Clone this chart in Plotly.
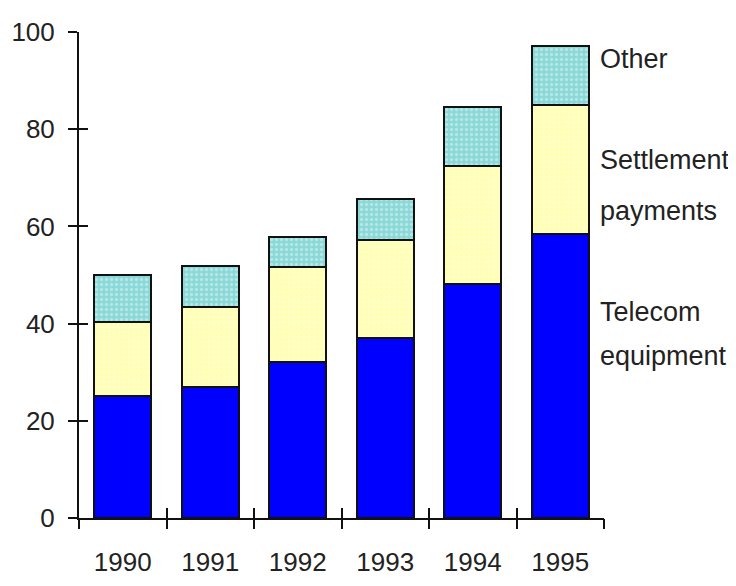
import plotly.graph_objects as go

years = ["1990", "1991", "1992", "1993", "1994", "1995"]
telecom = [25.2, 27.0, 32.0, 37.1, 48.2, 58.5]
settlement = [15.1, 16.4, 19.7, 20.2, 24.2, 26.4]
other = [9.7, 8.5, 6.2, 8.3, 12.1, 12.2]
y_ticks = [0, 20, 40, 60, 80, 100]
label_lines = ["Other", "Settlement", "payments", "Telecom", "equipment"]

FONT = "Liberation Sans, Arial, Helvetica, sans-serif"
# page body has an 8px margin, so the figure is drawn 8px in from the top-left
W, H = 728, 578
L, R, T, B = 71, 132, 24, 68
x_idx = list(range(len(years)))
bounds = [i - 0.5 for i in range(len(years) + 1)]

fig = go.Figure()
fig.add_trace(go.Bar(x=x_idx, y=telecom, name="Telecom equipment",
                     marker=dict(color="#0000ff", line=dict(color="#111", width=2))))
fig.add_trace(go.Bar(x=x_idx, y=settlement, name="Settlement payments",
                     marker=dict(color="#ffffc4", line=dict(color="#111", width=2),
                                 pattern=dict(shape=".", fgcolor="#ffff9a", bgcolor="#ffffc4",
                                              size=5, solidity=0.35))))
fig.add_trace(go.Bar(x=x_idx, y=other, name="Other",
                     marker=dict(color="#8ad8d8", line=dict(color="#111", width=2),
                                 pattern=dict(shape=".", fgcolor="#dff6f6", bgcolor="#8ad8d8",
                                              size=5, solidity=0.35))))

# label annotations to the right of the 1995 bar (pixel centers, figure coords)
label_px = [51, 152, 203, 304, 348]
for txt, py in zip(label_lines, label_px):
    fig.add_annotation(text=txt, xref="paper", yref="paper", x=1, xshift=-6,
                       y=1 - (py - T) / (H - T - B), xanchor="left", yanchor="middle",
                       showarrow=False, font=dict(family=FONT, size=27, color="#222"))

fig.update_layout(
    width=W, height=H, barmode="stack", bargap=0.345, showlegend=False,
    plot_bgcolor="white", paper_bgcolor="white",
    margin=dict(l=L, r=R, t=T, b=B, autoexpand=False),
    font=dict(family=FONT, size=26, color="#222"),
    xaxis=dict(range=[-0.5, len(years) - 0.5], tickmode="array", tickvals=x_idx,
               ticktext=years, ticks="", showline=True, linecolor="#111", linewidth=2,
               showgrid=False, zeroline=False, tickfont=dict(size=26), ticklabelstandoff=20,
               automargin=False),
    yaxis=dict(range=[0, 100], tickvals=y_ticks, ticks="outside", ticklen=9, tickwidth=2,
               tickcolor="#111", showline=True, linecolor="#111", linewidth=2,
               showgrid=False, zeroline=False, tickfont=dict(size=26), ticklabelstandoff=8,
               automargin=False),
    xaxis2=dict(overlaying="x", range=[-0.5, len(years) - 0.5], tickvals=bounds,
                ticks="outside", ticklen=10, tickwidth=2, tickcolor="#111",
                showticklabels=False, showgrid=False, zeroline=False, side="bottom",
                anchor="y", automargin=False),
    xaxis3=dict(overlaying="x", range=[-0.5, len(years) - 0.5], tickvals=bounds,
                ticks="inside", ticklen=10, tickwidth=2, tickcolor="#111",
                showticklabels=False, showgrid=False, zeroline=False, side="bottom",
                anchor="y", automargin=False),
    yaxis2=dict(overlaying="y", range=[0, 100], tickvals=y_ticks, ticks="inside",
                ticklen=9, tickwidth=2, tickcolor="#111", showticklabels=False,
                showgrid=False, zeroline=False, anchor="x", automargin=False),
)
# invisible traces to activate the overlay axes
for xa, ya in [("x2", "y"), ("x3", "y"), ("x", "y2")]:
    fig.add_trace(go.Scatter(x=[None], y=[None], xaxis=xa, yaxis=ya, showlegend=False,
                             hoverinfo="skip"))

fig.write_html("out.html")
